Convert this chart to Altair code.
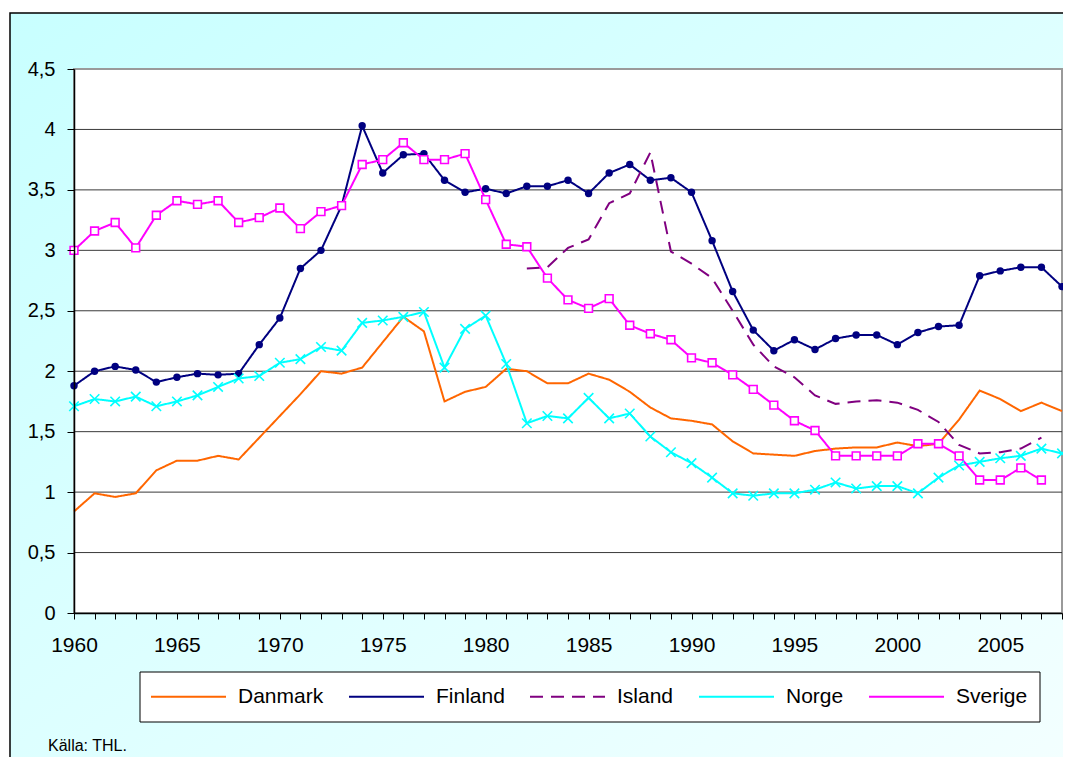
import altair as alt
import pandas as pd

years = list(range(1960, 2009))
countries = ["Danmark", "Finland", "Island", "Norge", "Sverige"]
colors = ["#ff6600", "#000080", "#800080", "#00ffff", "#ff00ff"]

danmark = [0.84, 0.99, 0.96, 0.99, 1.18, 1.26, 1.26, 1.30, 1.27, 1.45,
           1.63, 1.81, 2.00, 1.98, 2.03, 2.24, 2.45, 2.33, 1.75, 1.83,
           1.87, 2.02, 2.00, 1.90, 1.90, 1.98, 1.93, 1.83, 1.70, 1.61,
           1.59, 1.56, 1.42, 1.32, 1.31, 1.30, 1.34, 1.36, 1.37, 1.37,
           1.41, 1.38, 1.40, 1.60, 1.84, 1.77, 1.67, 1.74, 1.67]
finland = [1.88, 2.00, 2.04, 2.01, 1.91, 1.95, 1.98, 1.97, 1.98, 2.22,
           2.44, 2.85, 3.00, 3.37, 4.03, 3.64, 3.79, 3.80, 3.58, 3.48,
           3.51, 3.47, 3.53, 3.53, 3.58, 3.47, 3.64, 3.71, 3.58, 3.60,
           3.48, 3.08, 2.66, 2.34, 2.17, 2.26, 2.18, 2.27, 2.30, 2.30,
           2.22, 2.32, 2.37, 2.38, 2.79, 2.83, 2.86, 2.86, 2.70]
island = [None] * 22 + [2.85, 2.86, 3.02, 3.09, 3.39, 3.47, 3.81, 2.99,
                        2.89, 2.77, 2.50, 2.22, 2.04, 1.95, 1.80, 1.73,
                        1.75, 1.76, 1.74, 1.68, 1.58, 1.39, 1.32, 1.33,
                        1.36, 1.45, None]
norge = [1.71, 1.77, 1.75, 1.79, 1.71, 1.75, 1.80, 1.87, 1.94, 1.96,
         2.07, 2.10, 2.20, 2.17, 2.40, 2.42, 2.45, 2.49, 2.03, 2.35,
         2.46, 2.06, 1.57, 1.63, 1.61, 1.78, 1.61, 1.65, 1.46, 1.33,
         1.24, 1.12, 0.99, 0.97, 0.99, 0.99, 1.02, 1.08, 1.03, 1.05,
         1.05, 0.99, 1.12, 1.22, 1.25, 1.28, 1.30, 1.36, 1.32]
sverige = [3.00, 3.16, 3.23, 3.02, 3.29, 3.41, 3.38, 3.41, 3.23, 3.27,
           3.35, 3.18, 3.32, 3.37, 3.71, 3.75, 3.89, 3.75, 3.75, 3.80,
           3.42, 3.05, 3.03, 2.77, 2.59, 2.52, 2.60, 2.38, 2.31, 2.26,
           2.11, 2.07, 1.97, 1.85, 1.72, 1.59, 1.51, 1.30, 1.30, 1.30,
           1.30, 1.40, 1.40, 1.30, 1.10, 1.10, 1.20, 1.10, None]

y_ticks = [0, 0.5, 1, 1.5, 2, 2.5, 3, 3.5, 4, 4.5]
grid_values = [0.5, 1, 1.5, 2, 2.5, 3, 3.5, 4]
source_text = "Källa: THL."

series = dict(zip(countries, [danmark, finland, island, norge, sverige]))
rows = []
for c in countries:
    for yr, v in zip(years, series[c]):
        if v is not None:
            rows.append({"year": yr, "value": v, "country": c})
df = pd.DataFrame(rows)
grid_df = pd.DataFrame({"v": grid_values})
one = pd.DataFrame({"a": [0]})

FONT = "Liberation Sans"
W, H = 988, 544

xscale = alt.Scale(domain=[1960, 2008], nice=False, zero=False)
yscale = alt.Scale(domain=[0, 4.5], nice=False)

x_axis = alt.Axis(values=years,
                  labelExpr="datum.value % 5 == 0 ? toString(datum.value) : ''",
                  tickSize=6, tickColor="black", domainColor="black", domainWidth=1.5,
                  labelFont=FONT, labelFontSize=21, labelColor="black", grid=False,
                  labelPadding=15, labelOverlap=False, labelFlush=False, zindex=1)
y_axis = alt.Axis(values=y_ticks,
                  labelExpr="replace(toString(datum.value), '.', ',')",
                  tickSize=7, tickColor="black", domainColor="black", domainWidth=1.5,
                  labelFont=FONT, labelFontSize=20, labelColor="black", grid=False,
                  labelPadding=12, labelOverlap=False, labelFlush=False, zindex=1)

X = alt.X("year:Q", scale=xscale, title=None, axis=x_axis)
Y = alt.Y("value:Q", scale=yscale, title=None, axis=y_axis)

gradient = alt.Gradient(
    gradient="linear",
    stops=[alt.GradientStop(color="#c8ffff", offset=0),
           alt.GradientStop(color="#f4ffff", offset=1)],
    x1=0, y1=0, x2=1, y2=1,
)

bg = alt.Chart(one).mark_rect(fill=gradient, stroke="black", strokeWidth=1.5).encode(
    x=alt.value(-64), y=alt.value(-56), x2=alt.value(1010), y2=alt.value(720)
)
plotbg = alt.Chart(one).mark_rect(fill="white", stroke="#9a9a9a", strokeWidth=2).encode(
    x=alt.value(0), y=alt.value(0), x2=alt.value(W), y2=alt.value(H)
)
legend_box = alt.Chart(one).mark_rect(fill="white", stroke="black", strokeWidth=1).encode(
    x=alt.value(66), y=alt.value(603), x2=alt.value(966), y2=alt.value(653)
)
source = alt.Chart(one).mark_text(text=source_text, align="left", baseline="alphabetic",
                                  font=FONT, fontSize=16, color="black").encode(
    x=alt.value(-26), y=alt.value(682)
)
grid = alt.Chart(grid_df).mark_rule(color="#3a3a3a", strokeWidth=1).encode(
    y=alt.Y("v:Q", scale=yscale, title=None, axis=y_axis)
)

legend = alt.Legend(
    title=None, orient="none", legendX=76, legendY=589, direction="horizontal",
    columns=5, columnPadding=21, padding=0,
    symbolType="stroke", symbolSize=5625,
    symbolStrokeWidth=2, labelFont=FONT, labelFontSize=21, labelColor="black",
    labelOffset=11, symbolOffset=0,
)

lines = alt.Chart(df).mark_line(strokeWidth=2).encode(
    x=X, y=Y,
    color=alt.Color("country:N", scale=alt.Scale(domain=countries, range=colors), legend=legend),
    strokeDash=alt.StrokeDash("country:N", scale=alt.Scale(
        domain=countries, range=[[1, 0], [1, 0], [13, 8], [1, 0], [1, 0]]), legend=legend),
    order="year:Q",
)

pts_f = alt.Chart(df[df.country == "Finland"]).mark_point(
    shape="circle", filled=True, size=55, color="#000080", opacity=1).encode(x=X, y=Y)
pts_s = alt.Chart(df[df.country == "Sverige"]).mark_point(
    shape="square", filled=True, fill="white", stroke="#ff00ff", strokeWidth=1.6,
    size=60, opacity=1).encode(x=X, y=Y)
pts_n = alt.Chart(df[df.country == "Norge"]).mark_point(
    shape="M-1,-1L1,1M-1,1L1,-1", filled=False, stroke="#00ffff", strokeWidth=1.6,
    size=90, opacity=1).encode(x=X, y=Y)

chart = alt.layer(bg, plotbg, legend_box, source, grid, lines, pts_f, pts_s, pts_n).properties(
    width=W, height=H,
    padding={"left": 66, "top": 61, "right": 1, "bottom": 144},
    autosize=alt.AutoSizeParams(type="none"),
    background="white",
).configure_view(stroke=None)

chart.save("out.html", embed_options={"renderer": "svg", "actions": False})
